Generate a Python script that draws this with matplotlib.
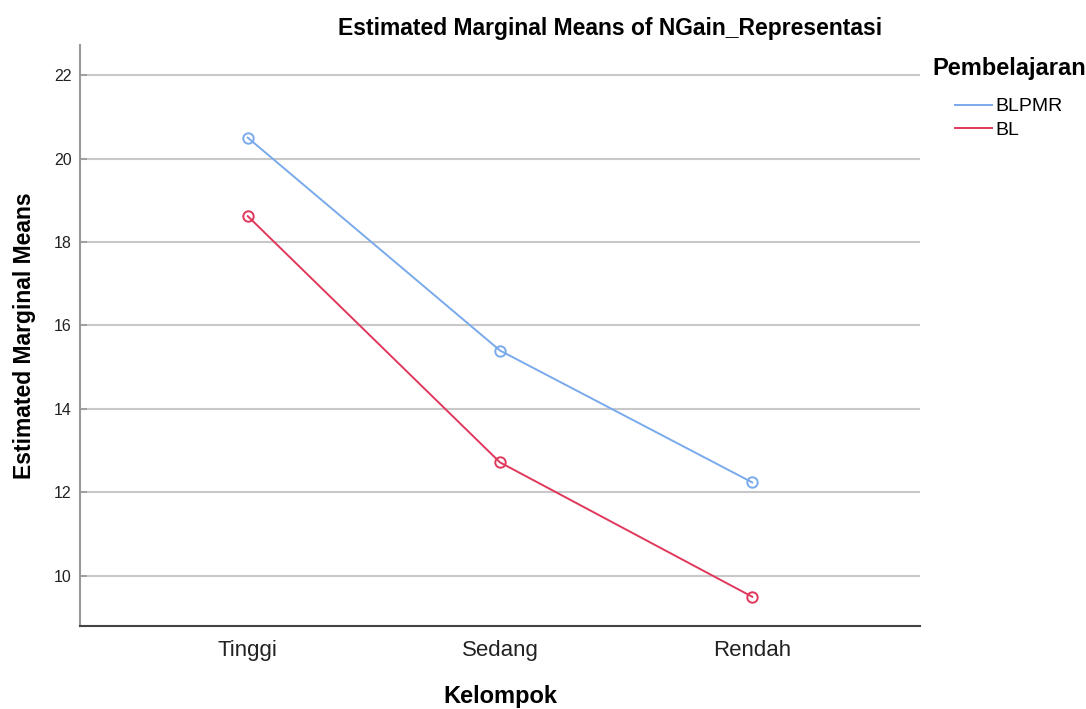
import matplotlib.pyplot as plt
from matplotlib.lines import Line2D

plt.rcParams['font.family'] = ['Liberation Sans', 'DejaVu Sans']

# data
kelompok = ["Tinggi", "Sedang", "Rendah"]
blpmr = [20.5, 15.4, 12.24]
bl = [18.62, 12.72, 9.5]
y_ticks = [10, 12, 14, 16, 18, 20, 22]

c_blpmr = "#79aaeb"
c_bl = "#e0385b"

fig = plt.figure(figsize=(10.86, 7.09), dpi=100)
ax = fig.add_axes([80/1086, 1-626/709, 840/1086, 581/709])

x = range(len(kelompok))
ax.plot(x, blpmr, color=c_blpmr, lw=1.4, marker="o", ms=7.5, mfc="none", mew=1.4, zorder=3)
ax.plot(x, bl, color=c_bl, lw=1.4, marker="o", ms=7.5, mfc="none", mew=1.4, zorder=3)

ax.set_xlim(-0.665, 2.665)
ax.set_ylim(8.8, 22.72)
ax.set_xticks(list(x))
ax.set_xticklabels(kelompok, fontsize=16, color="#222222")
ax.set_yticks(y_ticks)
ax.set_yticklabels([str(v) for v in y_ticks], fontsize=11.5, color="#222222")
ax.tick_params(axis="x", length=0, pad=10)
ax.tick_params(axis="y", direction="in", length=5, width=1.2, color="#999999", pad=6)
ax.grid(axis="y", color="#c8c8c8", lw=1.5, zorder=0)

for s in ["top", "right"]:
    ax.spines[s].set_visible(False)
ax.spines["left"].set_color("#999999")
ax.spines["left"].set_linewidth(1.5)
ax.spines["bottom"].set_color("#444444")
ax.spines["bottom"].set_linewidth(1.5)

ax.set_xlabel("Kelompok", fontsize=17, fontweight="bold", labelpad=17)
ax.set_ylabel("Estimated Marginal Means", fontsize=16.5, fontweight="bold", labelpad=13)

fig.text(610/1086, 1-29/709, "Estimated Marginal Means of NGain_Representasi",
         ha="center", va="center", fontsize=16.5, fontweight="bold")

fig.text(932/1086, 1-68/709, "Pembelajaran", ha="left", va="center",
         fontsize=17, fontweight="bold")
handles = [Line2D([], [], color=c_blpmr, lw=1.4), Line2D([], [], color=c_bl, lw=1.4)]
fig.legend(handles, ["BLPMR", "BL"], loc="upper left",
           bbox_to_anchor=(945/1086, 1-88/709), frameon=False, fontsize=14,
           handlelength=1.9, handletextpad=0.2, labelspacing=0.3, borderpad=0)

fig.savefig("out.png", dpi=100)
